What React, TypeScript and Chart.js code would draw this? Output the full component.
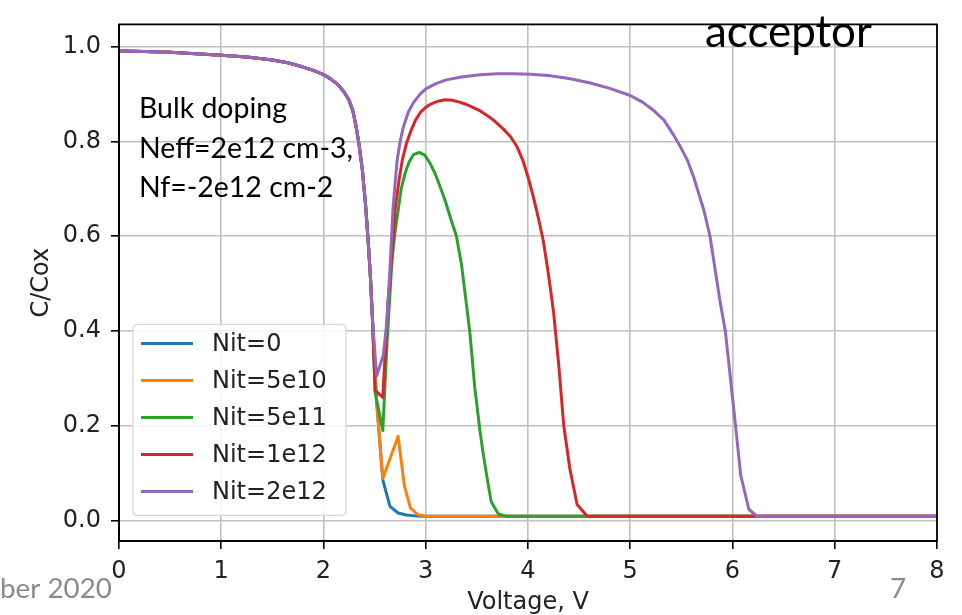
import React, { useEffect, useRef } from 'react';
import { Chart, registerables } from 'chart.js';

Chart.register(...registerables);

// ---- data ----
const seriesLabels = ['Nit=0', 'Nit=5e10', 'Nit=5e11', 'Nit=1e12', 'Nit=2e12'];
const seriesColors = ['#1f77b4', '#ff7f0e', '#2ca02c', '#d62728', '#9467bd'];

const xTicks = [0, 1, 2, 3, 4, 5, 6, 7, 8];
const yTicks = [0, 0.2, 0.4, 0.6, 0.8, 1.0];

// shared accumulation / depletion part (all five curves coincide)
const commonV = [0, 0.25, 0.5, 0.75, 1, 1.25, 1.5, 1.65, 1.8, 1.9, 2.0, 2.07, 2.14, 2.2, 2.25, 2.29, 2.32, 2.35, 2.38, 2.41, 2.44, 2.46, 2.48];
const commonC = [0.991, 0.99, 0.988, 0.985, 0.982, 0.978, 0.972, 0.966, 0.957, 0.95, 0.941, 0.932, 0.92, 0.905, 0.887, 0.862, 0.83, 0.79, 0.74, 0.67, 0.58, 0.51, 0.42];

const nit0V = [2.52, 2.58, 2.65, 2.73, 2.81, 2.9, 3.0, 8];
const nit0C = [0.25, 0.086, 0.03, 0.016, 0.012, 0.01, 0.009, 0.009];

const nit5e10V = [2.52, 2.58, 2.73, 2.79, 2.85, 2.92, 3.0, 8];
const nit5e10C = [0.25, 0.089, 0.178, 0.075, 0.027, 0.013, 0.009, 0.009];

const nit5e11V = [2.505, 2.58, 2.62, 2.67, 2.7, 2.73, 2.76, 2.8, 2.84, 2.88, 2.935, 2.99, 3.04, 3.09, 3.14, 3.19, 3.24, 3.3, 3.35, 3.39, 3.43, 3.48, 3.53, 3.56, 3.6, 3.64, 3.71, 3.79, 8];
const nit5e11C = [0.27, 0.19, 0.37, 0.55, 0.61, 0.655, 0.7, 0.735, 0.758, 0.772, 0.777, 0.771, 0.755, 0.733, 0.705, 0.675, 0.64, 0.6, 0.54, 0.47, 0.4, 0.28, 0.19, 0.144, 0.09, 0.04, 0.014, 0.009, 0.009];

const nit1e12V = [2.505, 2.58, 2.6, 2.63, 2.67, 2.7, 2.74, 2.77, 2.81, 2.86, 2.9, 2.95, 3.0, 3.05, 3.12, 3.19, 3.26, 3.33, 3.4, 3.47, 3.53, 3.6, 3.68, 3.76, 3.83, 3.89, 3.95, 4.0, 4.05, 4.1, 4.15, 4.2, 4.25, 4.3, 4.35, 4.41, 4.48, 4.58, 8];
const nit1e12C = [0.275, 0.26, 0.34, 0.46, 0.56, 0.657, 0.72, 0.76, 0.795, 0.825, 0.845, 0.862, 0.872, 0.879, 0.885, 0.888, 0.887, 0.883, 0.878, 0.871, 0.865, 0.855, 0.842, 0.826, 0.81, 0.79, 0.76, 0.725, 0.685, 0.64, 0.59, 0.52, 0.44, 0.33, 0.2, 0.109, 0.034, 0.009, 0.009];

const nit2e12V = [2.52, 2.586, 2.62, 2.65, 2.68, 2.72, 2.75, 2.78, 2.83, 2.88, 2.945, 3.0, 3.1, 3.2, 3.35, 3.53, 3.7, 3.86, 4.02, 4.2, 4.4, 4.6, 4.8, 5.0, 5.12, 5.22, 5.33, 5.42, 5.5, 5.56, 5.62, 5.67, 5.72, 5.78, 5.83, 5.88, 5.93, 5.98, 6.03, 6.08, 6.16, 6.24, 8];
const nit2e12C = [0.305, 0.35, 0.42, 0.53, 0.66, 0.76, 0.8, 0.83, 0.862, 0.882, 0.9, 0.911, 0.922, 0.93, 0.936, 0.941, 0.943, 0.943, 0.942, 0.939, 0.933, 0.924, 0.912, 0.897, 0.883, 0.867, 0.845, 0.815, 0.785, 0.76, 0.725, 0.69, 0.655, 0.6, 0.53, 0.46, 0.4, 0.3, 0.2, 0.096, 0.024, 0.009, 0.009];

const tailsV = [nit0V, nit5e10V, nit5e11V, nit1e12V, nit2e12V];
const tailsC = [nit0C, nit5e10C, nit5e11C, nit1e12C, nit2e12C];

const X_MIN = 0, X_MAX = 8, Y_MIN = -0.043, Y_MAX = 1.047;

const noteLines = ['Bulk doping', 'Neff=2e12 cm-3,', 'Nf=-2e12 cm-2'];
const cornerNote = 'acceptor';
const footerLeft = 'ber 2020';
const footerRight = '7';

function buildPoints(i: number) {
  const pts: { x: number; y: number }[] = [];
  commonV.forEach((v, k) => pts.push({ x: v, y: commonC[k] }));
  tailsV[i].forEach((v, k) => pts.push({ x: v, y: tailsC[i][k] }));
  return pts;
}

const TICK_FONT = { family: 'DejaVu Sans', size: 24 };
const TITLE_FONT = { family: 'DejaVu Sans', size: 24, lineHeight: 1.0 };
const SLIDE_FONT = 'Lato, "Open Sans", sans-serif';

function fitFont(ctx: CanvasRenderingContext2D, text: string, width: number, family: string) {
  ctx.font = `100px ${family}`;
  const w = ctx.measureText(text).width;
  return (100 * width) / w;
}

const overlayPlugin = {
  id: 'overlay',
  afterDatasetsDraw(chart: any) {
    const { ctx, chartArea: a } = chart;
    ctx.save();
    // frame
    ctx.strokeStyle = '#000';
    ctx.lineWidth = 1.8;
    ctx.strokeRect(a.left, a.top, a.right - a.left, a.bottom - a.top);

    // legend box
    const bx = a.left + 14, by = a.top + 300, bw = 213, bh = 191, r = 5;
    ctx.beginPath();
    ctx.moveTo(bx + r, by);
    ctx.lineTo(bx + bw - r, by);
    ctx.quadraticCurveTo(bx + bw, by, bx + bw, by + r);
    ctx.lineTo(bx + bw, by + bh - r);
    ctx.quadraticCurveTo(bx + bw, by + bh, bx + bw - r, by + bh);
    ctx.lineTo(bx + r, by + bh);
    ctx.quadraticCurveTo(bx, by + bh, bx, by + bh - r);
    ctx.lineTo(bx, by + r);
    ctx.quadraticCurveTo(bx, by, bx + r, by);
    ctx.closePath();
    ctx.fillStyle = 'rgba(255,255,255,0.85)';
    ctx.fill();
    ctx.strokeStyle = '#d6d6d6';
    ctx.lineWidth = 1.2;
    ctx.stroke();

    ctx.font = `${TICK_FONT.size}px "DejaVu Sans"`;
    ctx.textBaseline = 'middle';
    ctx.textAlign = 'left';
    chart.data.datasets.forEach((ds: any, i: number) => {
      const y = by + 19 + i * 37;
      ctx.strokeStyle = ds.borderColor;
      ctx.lineWidth = 3;
      ctx.beginPath();
      ctx.moveTo(bx + 8, y);
      ctx.lineTo(bx + 60, y);
      ctx.stroke();
      ctx.fillStyle = '#222';
      ctx.fillText(ds.label, bx + 79, y + 1);
    });

    // slide annotations
    ctx.textBaseline = 'alphabetic';
    ctx.fillStyle = '#000';
    const noteSize = fitFont(ctx, noteLines[1], 214, SLIDE_FONT);
    ctx.font = `${noteSize}px ${SLIDE_FONT}`;
    noteLines.forEach((t, k) => ctx.fillText(t, 139, 118 + k * 39.5));

    const accSize = fitFont(ctx, cornerNote, 167, SLIDE_FONT);
    ctx.font = `${accSize}px ${SLIDE_FONT}`;
    ctx.fillText(cornerNote, 705, 47);

    ctx.fillStyle = '#8a8a8a';
    const footSize = fitFont(ctx, footerLeft, 112, SLIDE_FONT);
    ctx.font = `${footSize}px ${SLIDE_FONT}`;
    ctx.fillText(footerLeft, 0, 598);
    ctx.fillText(footerRight, 890, 598);
    ctx.restore();
  },
};

export default function App() {
  const ref = useRef<HTMLCanvasElement | null>(null);
  useEffect(() => {
    if (!ref.current) return;
    const datasets = seriesLabels.map((label, i) => ({
      label,
      data: buildPoints(i),
      borderColor: seriesColors[i],
      backgroundColor: seriesColors[i],
      borderWidth: 3,
      pointRadius: 0,
      tension: 0,
      fill: false,
      borderJoinStyle: 'round' as const,
      order: seriesLabels.length - i,
    }));
    const chart = new Chart(ref.current, {
      type: 'line',
      data: { datasets },
      options: {
        responsive: false,
        animation: false,
        devicePixelRatio: 1,
        layout: { padding: { left: 0, right: 25, top: 10, bottom: 0 } },
        plugins: { legend: { display: false }, tooltip: { enabled: false } },
        scales: {
          x: {
            type: 'linear',
            min: X_MIN,
            max: X_MAX,
            afterBuildTicks: (s: any) => { s.ticks = xTicks.map((v) => ({ value: v })); },
            afterFit: (s: any) => { s.height = 74; },
            grid: { color: '#c0c0c0', lineWidth: 1.6, tickColor: '#000', tickLength: 8, tickWidth: 1.6 },
            border: { color: '#000', width: 1.8 },
            ticks: { font: TICK_FONT, color: '#222', padding: 8, maxRotation: 0, callback: (v: any) => String(v) },
            title: { display: true, text: 'Voltage, V', font: TITLE_FONT, color: '#222', padding: { top: 0, bottom: 0 } },
          },
          y: {
            type: 'linear',
            min: Y_MIN,
            max: Y_MAX,
            afterBuildTicks: (s: any) => { s.ticks = yTicks.map((v) => ({ value: v })); },
            afterFit: (s: any) => { s.width = 119; },
            grid: { color: '#c0c0c0', lineWidth: 1.6, tickColor: '#000', tickLength: 8, tickWidth: 1.6 },
            border: { color: '#000', width: 1.8 },
            ticks: { font: TICK_FONT, color: '#222', padding: 10, callback: (v: any) => Number(v).toFixed(1) },
            title: { display: true, text: 'C/Cox', font: TICK_FONT, color: '#222', padding: { top: 27, bottom: 0 } },
          },
        },
      },
      plugins: [overlayPlugin],
    });
    return () => chart.destroy();
  }, []);
  return (
    <div style={{ position: 'fixed', left: 0, top: 0, width: 962, height: 615, background: '#fff' }}>
      <canvas ref={ref} width={962} height={615} style={{ display: 'block', width: 962, height: 615 }} />
    </div>
  );
}
